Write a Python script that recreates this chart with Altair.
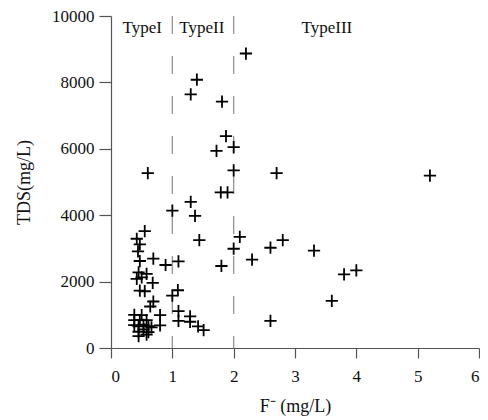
import altair as alt
import pandas as pd

# F- (mg/L)
f_vals = [2.20, 1.40, 1.30, 1.81, 1.875, 1.72, 2.00, 0.60, 2.00, 2.70, 5.20,
          1.79, 1.90, 1.30, 1.00, 1.37, 1.44, 2.10, 2.00, 2.60, 2.80, 3.31,
          2.30, 1.80, 3.80, 4.00, 3.60, 2.60, 1.51,
          0.55, 0.42, 0.47, 0.44, 0.47, 0.69, 0.89, 1.10, 0.45, 0.58, 0.42,
          0.50, 0.68, 0.47, 0.55, 1.09, 1.00, 0.69, 0.64, 0.80, 0.80, 1.10,
          1.10, 1.29, 1.29, 1.42,
          0.38, 0.50, 0.38, 0.47, 0.58, 0.38, 0.45, 0.53, 0.61, 0.45, 0.53,
          0.61, 0.45, 0.58, 0.66]
# TDS (mg/L)
tds_vals = [8870, 8080, 7640, 7420, 6380, 5940, 6050, 5270, 5350, 5270, 5190,
            4690, 4690, 4400, 4140, 3980, 3250, 3350, 2990, 3020, 3250, 2930,
            2660, 2470, 2220, 2340, 1420, 820, 540,
            3520, 3290, 3120, 2910, 2620, 2690, 2500, 2610, 2280, 2230, 2080,
            2130, 1960, 1730, 1710, 1740, 1580, 1400, 1250, 990, 680, 1110,
            820, 950, 790, 650,
            1000, 990, 840, 840, 840, 690, 650, 700, 660, 490, 560,
            480, 360, 400, 620]

type_labels = ["TypeI", "TypeII", "TypeIII"]
type_x = [0.51, 1.48, 3.52]
type_y = [9640, 9640, 9640]

boundary_x = [1, 2]
x_ticks = [0, 1, 2, 3, 4, 5, 6]
y_ticks = [0, 2000, 4000, 6000, 8000, 10000]

pts = pd.DataFrame({"F": f_vals, "TDS": tds_vals})
labels = pd.DataFrame({"label": type_labels, "x": type_x, "y": type_y})
bounds = pd.DataFrame({"x": boundary_x, "y": [10000, 10000], "y2": [0, 0]})

FONT = "Liberation Serif"

xscale = alt.Scale(domain=[0, 6], nice=False, zero=False)
yscale = alt.Scale(domain=[0, 10000], nice=False)

plus = "M-1,0L1,0M0,-1L0,1"

points = alt.Chart(pts).mark_point(
    shape=plus, size=150, filled=False, stroke="#000", strokeWidth=1.8, opacity=1
).encode(
    x=alt.X("F:Q", scale=xscale,
            axis=alt.Axis(values=x_ticks, title="F⁻ (mg/L)", format="d")),
    y=alt.Y("TDS:Q", scale=yscale,
            axis=alt.Axis(values=y_ticks, title="TDS(mg/L)", format="d")),
)

rules = alt.Chart(bounds).mark_rule(
    color="#999999", strokeWidth=1.4, strokeDash=[18, 22]
).encode(
    x=alt.X("x:Q", scale=xscale),
    y=alt.Y("y:Q", scale=yscale),
    y2="y2:Q",
)

texts = alt.Chart(labels).mark_text(
    font=FONT, fontSize=17, color="#111", baseline="middle", align="center"
).encode(
    x=alt.X("x:Q", scale=xscale),
    y=alt.Y("y:Q", scale=yscale),
    text="label:N",
)

chart = alt.layer(rules, points, texts).properties(
    width=368, height=332,
    autosize=alt.AutoSizeParams(type="none"),
    padding={"left": 103, "top": 8, "right": 1, "bottom": 68},
).configure_view(stroke=None).configure_axis(
    grid=False, domainColor="#555", tickColor="#555", domainWidth=1.2,
    tickWidth=1.2, labelFont=FONT, titleFont=FONT, labelFontSize=17,
    titleFontSize=18, labelColor="#111", titleColor="#111",
    titleFontWeight="normal",
).configure_axisX(
    tickSize=10, labelPadding=10, titlePadding=13
).configure_axisY(
    tickSize=12, labelPadding=5, titlePadding=18
)

chart.save("out.html", embed_options={"renderer": "svg", "actions": False})
